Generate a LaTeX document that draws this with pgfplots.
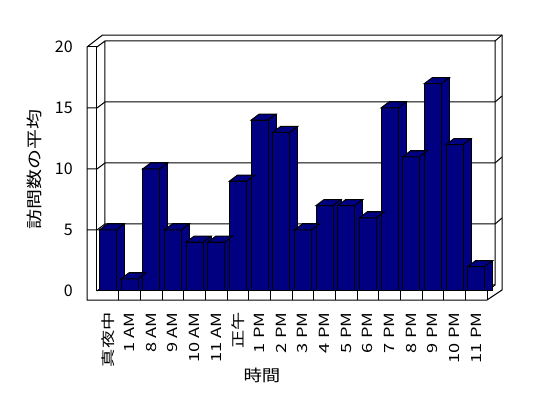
\documentclass[border=0pt]{standalone}
\usepackage{graphicx}
\usepackage{fontspec}
\setmainfont{Noto Sans CJK JP}
\usepackage{pgfplots}
\usepackage{pgfplotstable}
\pgfplotsset{compat=1.18}
\definecolor{barnavy}{RGB}{0,0,128}
\newcommand\hs[1]{\scalebox{1.3}[1]{#1}}
\pgfdeclareplotmark{topface}{%
  \pgfpathmoveto{\pgfpoint{-6.375pt}{0pt}}%
  \pgfpathlineto{\pgfpoint{6.375pt}{0pt}}%
  \pgfpathlineto{\pgfpoint{12.375pt}{4.5pt}}%
  \pgfpathlineto{\pgfpoint{-0.375pt}{4.5pt}}%
  \pgfpathclose
  \pgfusepathqfillstroke}
\pgfplotstableread{
x v
0 5
1 1
2 10
3 5
4 4
5 4
6 9
7 14
8 13
9 5
10 7
11 7
12 6
13 15
14 11
15 17
16 12
17 2
}\visits
\begin{document}
\begin{tikzpicture}
\useasboundingbox (-72.75pt,-80.25pt) rectangle (338.25pt,218.25pt);
\begin{axis}[
  at={(0,0)}, anchor=south west,
  x=16.25pt, y=9.15pt,
  xmin=-0.5, xmax=17.5, ymin=0, ymax=20,
  enlargelimits=false,
  clip=false,
  axis lines=left,
  axis line style={draw=none},
  major tick length=0pt,
  xtick={0,...,17},
  xticklabels={\hs{真夜中},\hs{1 AM},\hs{8 AM},\hs{9 AM},\hs{10 AM},\hs{11 AM},\hs{正午},\hs{1 PM},\hs{2 PM},\hs{3 PM},\hs{4 PM},\hs{5 PM},\hs{6 PM},\hs{7 PM},\hs{8 PM},\hs{9 PM},\hs{10 PM},\hs{11 PM}},
  xticklabel style={rotate=90, anchor=east, font=\fontsize{10.5}{12.5}\selectfont, inner sep=0pt},
  xticklabel shift=16pt,
  ytick={0,5,10,15,20},
  yticklabel style={anchor=east, font=\fontsize{12}{14}\selectfont, inner sep=0pt},
  yticklabel shift=18pt,
  /pgf/number format/assume math mode=true,
  xlabel={\scalebox{1.15}[1]{時間}},
  xlabel style={at={(axis description cs:0.423,-0.348)}, anchor=center, font=\fontsize{12}{14}\selectfont},
  ylabel={\scalebox{1.25}[1]{訪問数の平均}},
  ylabel style={at={(axis description cs:-0.1615,0.496)}, anchor=center, font=\fontsize{12}{14}\selectfont},
]
% frame: outer outline
\draw[line width=0.75pt] (-0.9615,-0.738) -- (-0.9615,20) -- (-0.246,20.98) -- (18.192,20.98) -- (18.192,0.082) -- (17.5,-0.738) -- cycle;
% left wall inner front edge and floor front top edge
\draw[line width=0.75pt] (-0.9615,20) -- (-0.5,20) -- (-0.5,0) -- (17.5,0) -- (17.5,-0.738);
% back wall
\draw[line width=0.75pt] (-0.5,20) -- (-0.131,20.492) -- (17.869,20.492) -- (17.869,0.492) -- (-0.131,0.492) -- (-0.131,20.492);
\draw[line width=0.75pt] (-0.5,0) -- (-0.131,0.492);
\draw[line width=0.75pt] (17.5,0) -- (17.869,0.492);
\draw[line width=0.75pt] (17.869,20.492) -- (18.192,20.98);
% grid lines
\draw[line width=0.75pt] (-0.9615,5) -- (-0.5,5) -- (-0.131,5.492) -- (17.869,5.492) -- (18.192,5.98);
\draw[line width=0.75pt] (-0.9615,10) -- (-0.5,10) -- (-0.131,10.492) -- (17.869,10.492) -- (18.192,10.98);
\draw[line width=0.75pt] (-0.9615,15) -- (-0.5,15) -- (-0.131,15.492) -- (17.869,15.492) -- (18.192,15.98);
% floor front separators
\draw[line width=0.75pt] (0.5,0)--(0.5,-0.738) (1.5,0)--(1.5,-0.738) (2.5,0)--(2.5,-0.738) (3.5,0)--(3.5,-0.738) (4.5,0)--(4.5,-0.738) (5.5,0)--(5.5,-0.738) (6.5,0)--(6.5,-0.738) (7.5,0)--(7.5,-0.738) (8.5,0)--(8.5,-0.738) (9.5,0)--(9.5,-0.738) (10.5,0)--(10.5,-0.738) (11.5,0)--(11.5,-0.738) (12.5,0)--(12.5,-0.738) (13.5,0)--(13.5,-0.738) (14.5,0)--(14.5,-0.738) (15.5,0)--(15.5,-0.738) (16.5,0)--(16.5,-0.738);
% bar sides (shifted back copies)
\addplot[ybar, bar width=12.75pt, bar shift=6pt, fill=barnavy, draw=black, line width=0.75pt]
  table[x=x, y expr=\thisrow{v}+0.4918] {\visits};
% bar tops
\addplot[only marks, mark=topface, mark options={fill=barnavy, draw=black, line width=0.75pt}]
  table[x=x, y=v] {\visits};
% bar fronts
\addplot[ybar, bar width=12.75pt, bar shift=0pt, fill=barnavy, draw=black, line width=0.75pt]
  table[x=x, y=v] {\visits};
\end{axis}
\end{tikzpicture}
\end{document}
